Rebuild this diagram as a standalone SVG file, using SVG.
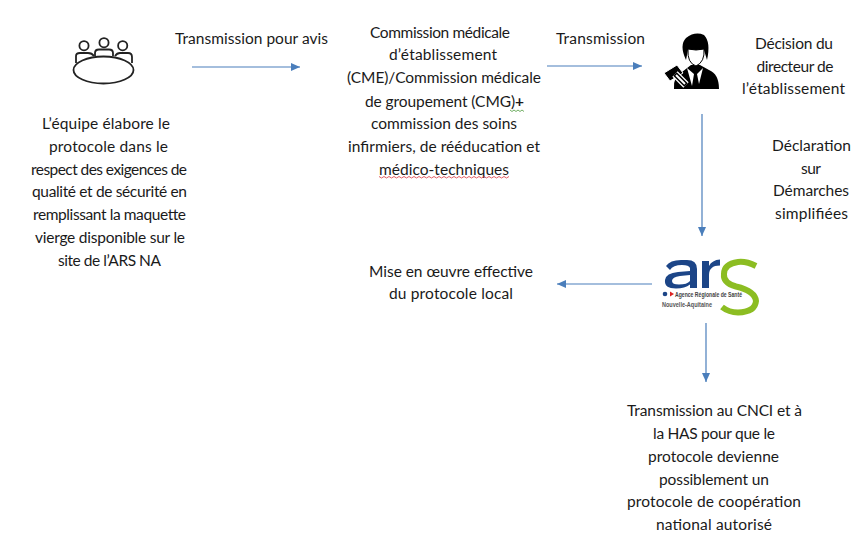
<svg xmlns="http://www.w3.org/2000/svg" width="866" height="555" viewBox="0 0 866 555">
<style>
text{font-family:Lato,"Liberation Sans",sans-serif;font-size:15.5px;fill:#1a1a1a;text-anchor:middle}
.c{fill:none;stroke:#4a7ebb;stroke-width:1.2;marker-end:url(#a)}
.i{fill:#fff;stroke:#222;stroke-width:1.8}
.l{font-family:"Liberation Sans",sans-serif;text-anchor:start}
</style>
<defs>
<marker id="a" markerUnits="userSpaceOnUse" markerWidth="10" markerHeight="8" refX="9" refY="4" orient="auto"><path d="M0 0L9 4L0 8z" fill="#4a7ebb"/></marker>
</defs>
<rect width="866" height="555" fill="#fff"/>
<g id="connectors">
<path class="c" d="M192 67H300"/>
<path class="c" d="M547 66H642"/>
<path class="c" d="M702 114V236"/>
<path class="c" d="M652 284H557"/>
<path class="c" d="M706 323V382"/>
</g>
<g id="equipe">
<g class="i">
<circle cx="84" cy="45.700" r="4.600"/><circle cx="104" cy="42.700" r="4.600"/><circle cx="122.700" cy="45.700" r="4.600"/>
<path d="M76 63V56Q76 53 80 53H88Q92 53 94 56M115 56Q117 53 120 53H128Q132 53 132 57V63"/>
<path d="M95 56V53Q95 49.500 99 49.500H109Q113 49.500 113 53V56"/>
<ellipse cx="103.500" cy="70" rx="30" ry="13.500"/>
</g>
<text x="106" y="129" textLength="128">L’équipe élabore le</text>
<text x="108.500" y="152" textLength="119">protocole dans le</text>
<text x="109" y="175" textLength="156">respect des exigences de</text>
<text x="109.500" y="197" textLength="155">qualité et de sécurité en</text>
<text x="109.500" y="220" textLength="153">remplissant la maquette</text>
<text x="110" y="243" textLength="150">vierge disponible sur le</text>
<text x="109.500" y="266" textLength="103">site de l’ARS NA</text>
</g>
<g id="transmission-avis"><text x="251.500" y="44" textLength="153">Transmission pour avis</text></g>
<g id="cme">
<text x="440" y="38" textLength="140">Commission médicale</text>
<text x="443" y="60" textLength="108">d’établissement</text>
<text x="444" y="83" textLength="194">(CME)/Commission médicale</text>
<text x="444.500" y="107" textLength="159">de groupement (CMG)<tspan font-weight="700">+</tspan></text>
<text x="444" y="129" textLength="146">commission des soins</text>
<text x="444" y="152" textLength="192">infirmiers, de rééducation et</text>
<text x="444" y="175" textLength="130">médico-techniques</text>
<path d="M510 110l2 1.500 2-1.500 2 1.500 2-1.500 2 1.500 2-1.500 2 1.500" fill="none" stroke="#4c9a3c" stroke-width=".8"/>
<path d="M379 176.500l2.500 1.500 2.500-1.500 2.500 1.500 2.500-1.500 2.500 1.500 2.500-1.500 2.500 1.500 2.500-1.500 2.500 1.500 2.500-1.500 2.500 1.500 2.500-1.500 2.500 1.500 2.500-1.500 2.500 1.500 2.500-1.500 2.500 1.500 2.500-1.500 2.500 1.500 2.500-1.500 2.500 1.500 2.500-1.500 2.500 1.500 2.500-1.500 2.500 1.500 2.500-1.500 2.500 1.500 2.500-1.500 2.500 1.500 2.500-1.500 2.500 1.500 2.500-1.500 2.500 1.500 2.500-1.500 2.500 1.500 2.500-1.500 2.500 1.500 2.500-1.500 2.500 1.500 2.500-1.500 2.500 1.500 2.500-1.500 2.500 1.500 2.500-1.500 2.500 1.500 2.500-1.500 2.500 1.500 2.500-1.500 2.500 1.500 2.500-1.500 2.500 1.500 2.500-1.500" fill="none" stroke="#d9363e" stroke-width=".8"/>
</g>
<g id="transmission"><text x="600.500" y="44" textLength="89">Transmission</text></g>
<g id="directeur">
<path d="M674 89Q673 76 682 72L691 65H700L709 70Q719 74 719 89Z" fill="#000"/>
<path d="M686 60Q679 45 686 38Q695 31 704 35Q711 42 707 60L704 50H688Z" fill="#000"/>
<path d="M688 49Q696 51 704 49Q705 62 696 66Q687 63 688 49Z" fill="#fff" stroke="#000" stroke-width="1"/>
<path d="M687 68L694 74L692 86ZM703 68L697 74L699 84Z" fill="#fff"/>
<path d="M664 73L677 65L683 73L670 81Z" fill="#000" stroke="#fff" stroke-width="1"/>
<path d="M675 74L686 85" stroke="#fff" stroke-width="7.500" fill="none"/>
<path d="M675 74L686 85" stroke="#000" stroke-width="5" fill="none"/>
<path d="M676 75L685 84" stroke="#fff" stroke-width="2" fill="none"/>
<text x="794" y="49" textLength="78">Décision du</text>
<text x="795" y="72" textLength="77">directeur de</text>
<text x="793.500" y="94" textLength="103">l’établissement</text>
</g>
<g id="declaration">
<text x="811.500" y="151" textLength="79">Déclaration</text>
<text x="811" y="174" textLength="20">sur</text>
<text x="811" y="196" textLength="76">Démarches</text>
<text x="811.500" y="219" textLength="73">simplifiées</text>
</g>
<g id="ars">
<path d="M666 266Q670 260 681 260H687Q697 260 697 269V288H690V284.500Q685 288.500 676 288.500Q664 288.500 665 280Q666 273 678 272L690 271V268Q689 265 682 265Q673 265 670 270ZM690 275L680 276Q672 277 672 281Q672 284.500 679 284.500Q687 284.500 690 281Z" fill="#1c4587"/>
<path d="M702 288V261H709V266Q712 260 720 259.500V265.500Q709 265.500 709 275V288Z" fill="#1c4587"/>
<path d="M756 266Q746 261 738 262Q724 264 724 274Q723 283 736 286.500Q755 291 756 301Q755 312 738 312.500Q729 312.500 722 307" fill="none" stroke="#8cbd22" stroke-width="6"/>
<circle cx="665" cy="294" r="2.300" fill="#1c4587"/>
<path d="M670 291.500L674 294L670 296.500Z" fill="#d22"/>
<text class="l" x="675" y="296.500" style="font-size:6.500px;fill:#444;font-weight:700" textLength="67" lengthAdjust="spacingAndGlyphs">Agence Régionale de Santé</text>
<text class="l" x="662" y="306.500" style="font-size:6.500px;fill:#555;font-weight:700" textLength="50" lengthAdjust="spacingAndGlyphs">Nouvelle-Aquitaine</text>
</g>
<g id="mise-en-oeuvre">
<text x="451" y="277" textLength="164">Mise en œuvre effective</text>
<text x="451" y="299" textLength="124">du protocole local</text>
</g>
<g id="cnci">
<text x="714.500" y="416" textLength="175">Transmission au CNCI et à</text>
<text x="714" y="439" textLength="122">la HAS pour que le</text>
<text x="713.500" y="462" textLength="131">protocole devienne</text>
<text x="714" y="485" textLength="110">possiblement un</text>
<text x="714" y="507" textLength="174">protocole de coopération</text>
<text x="714" y="530" textLength="116">national autorisé</text>
</g>
</svg>
